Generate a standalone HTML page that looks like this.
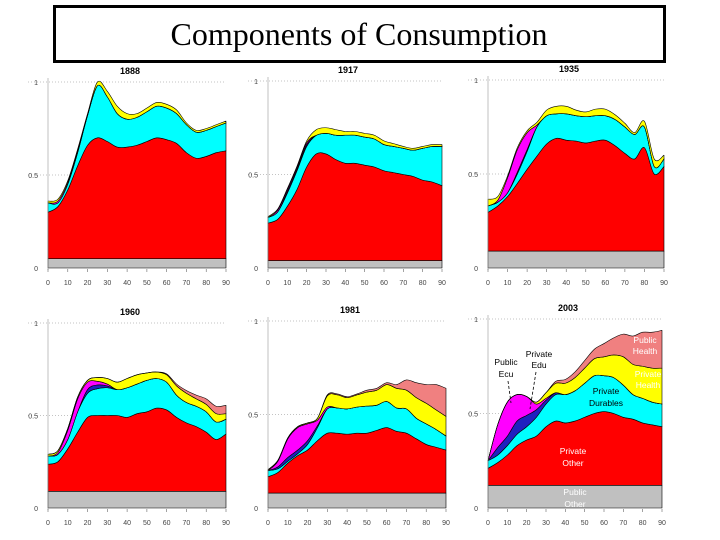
<!DOCTYPE html>
<html><head><meta charset="utf-8"><style>
html,body{margin:0;padding:0;background:#fff;width:720px;height:540px;overflow:hidden}
svg text{font-family:"Liberation Sans",sans-serif}
</style></head><body>
<svg id="chart" width="720" height="540" xmlns="http://www.w3.org/2000/svg">
<rect x="54.5" y="6.5" width="610" height="55" fill="#fff" stroke="#000" stroke-width="3"/>
<text x="359" y="45" text-anchor="middle" style="font-family:'Liberation Serif',serif;font-size:32px">Components of Consumption</text>
<g id="panels"></g>
</svg>
<script>
const ages=[0,5,10,15,20,25,30,35,40,45,50,55,60,65,70,75,80,85,90];
const layerNames=["public-other","private-other","private-durables","private-edu","public-edu","private-health","public-health"];
const layerColors=["#c0c0c0","#ff0000","#00ffff","#2020c0","#ff00ff","#ffff00","#f08080"];
const years=["1888","1917","1935","1960","1981","2003"];
const z=Array(19).fill(0);
// thickness per layer, per panel
const p1888=[
 Array(19).fill(0.05),
 [0.25,0.28,0.37,0.50,0.61,0.65,0.63,0.60,0.60,0.61,0.63,0.65,0.64,0.62,0.57,0.54,0.55,0.57,0.58],
 [0.05,0.02,0.03,0.07,0.16,0.28,0.24,0.18,0.15,0.15,0.16,0.17,0.17,0.16,0.15,0.14,0.14,0.14,0.15],
 z,
 [0,0.01,0.01,0.01,0,0,0,0,0,0,0,0,0,0,0,0,0,0,0],
 [0.01,0.01,0.01,0.01,0.01,0.02,0.03,0.04,0.03,0.02,0.02,0.02,0.02,0.02,0.01,0.01,0.01,0.01,0.01],
 z];
const p1917=[
 Array(19).fill(0.04),
 [0.20,0.22,0.29,0.38,0.50,0.57,0.57,0.54,0.52,0.52,0.51,0.50,0.48,0.47,0.46,0.45,0.43,0.42,0.40],
 [0.03,0.04,0.07,0.10,0.11,0.10,0.11,0.13,0.15,0.15,0.15,0.15,0.14,0.14,0.14,0.14,0.17,0.19,0.21],
 [0,0,0.01,0.01,0.01,0,0,0,0,0,0,0,0,0,0,0,0,0,0],
 [0,0.01,0.01,0.01,0.01,0,0,0,0,0,0,0,0,0,0,0,0,0,0],
 [0.005,0.005,0.005,0.005,0.01,0.03,0.03,0.03,0.02,0.02,0.02,0.02,0.02,0.015,0.01,0.01,0.01,0.01,0.01],
 z];
const p1935=[
 Array(19).fill(0.09),
 [0.206,0.24,0.29,0.36,0.435,0.505,0.57,0.60,0.59,0.585,0.575,0.585,0.59,0.56,0.52,0.49,0.55,0.41,0.45],
 [0.034,0.02,0.02,0.05,0.095,0.155,0.15,0.13,0.14,0.135,0.14,0.135,0.13,0.14,0.14,0.13,0.11,0.04,0.04],
 [0,0,0,0.01,0.01,0,0,0,0,0,0,0,0,0,0,0,0,0,0],
 [0,0.01,0.08,0.12,0.09,0.01,0,0,0,0,0,0,0,0,0,0,0,0,0],
 [0.036,0.02,0.01,0.01,0.01,0.015,0.03,0.04,0.04,0.03,0.025,0.035,0.035,0.025,0.02,0.01,0.03,0.04,0.02],
 z];
const p1960=[
 Array(19).fill(0.09),
 [0.146,0.16,0.23,0.32,0.40,0.41,0.41,0.41,0.40,0.42,0.43,0.45,0.44,0.40,0.37,0.35,0.32,0.28,0.31],
 [0.044,0.04,0.05,0.11,0.13,0.145,0.15,0.14,0.16,0.16,0.17,0.16,0.15,0.12,0.11,0.11,0.11,0.095,0.08],
 [0,0,0,0,0.02,0.02,0.01,0,0,0,0,0,0,0,0,0,0,0,0],
 [0,0.01,0.05,0.07,0.04,0.02,0.01,0,0,0,0,0,0,0,0,0,0,0,0],
 [0.01,0.01,0.01,0.01,0.01,0.02,0.03,0.04,0.05,0.05,0.04,0.035,0.04,0.05,0.05,0.04,0.04,0.045,0.03],
 [0,0,0,0,0,0,0,0,0,0,0,0,0.005,0.01,0.015,0.02,0.03,0.04,0.045]];
const p1981=[
 Array(19).fill(0.08),
 [0.087,0.11,0.16,0.20,0.23,0.28,0.32,0.32,0.315,0.32,0.32,0.335,0.35,0.33,0.32,0.29,0.26,0.245,0.23],
 [0.033,0.02,0.01,0.01,0.03,0.07,0.13,0.135,0.135,0.14,0.145,0.135,0.14,0.125,0.13,0.11,0.11,0.095,0.075],
 [0,0.01,0.02,0.02,0.02,0.01,0,0,0,0,0,0,0,0,0,0,0,0,0],
 [0,0.03,0.10,0.12,0.09,0.03,0.01,0,0,0,0,0,0,0,0,0,0,0,0],
 [0.005,0.005,0.005,0.005,0.005,0.01,0.06,0.07,0.06,0.065,0.075,0.08,0.09,0.105,0.10,0.11,0.11,0.105,0.105],
 [0,0,0,0,0,0,0.005,0.005,0.005,0.005,0.01,0.01,0.01,0.02,0.055,0.08,0.10,0.135,0.15]];
const p2003=[
 Array(19).fill(0.12),
 [0.09,0.12,0.16,0.21,0.24,0.26,0.31,0.34,0.33,0.34,0.36,0.38,0.39,0.38,0.36,0.35,0.33,0.32,0.31],
 [0.04,0.04,0.05,0.06,0.07,0.10,0.12,0.14,0.15,0.16,0.18,0.20,0.19,0.19,0.17,0.13,0.13,0.12,0.12],
 [0,0.04,0.05,0.07,0.06,0.04,0.02,0.01,0,0,0,0,0,0,0,0,0,0,0],
 [0,0.12,0.18,0.14,0.10,0.03,0.01,0,0,0,0,0,0,0,0,0,0,0,0],
 [0,0,0,0,0,0.01,0.03,0.05,0.06,0.07,0.08,0.09,0.10,0.12,0.15,0.16,0.17,0.18,0.19],
 [0,0,0,0,0,0,0,0.01,0.02,0.03,0.04,0.05,0.07,0.09,0.12,0.15,0.18,0.19,0.20]];
const panelData=[p1888,p1917,p1935,p1960,p1981,p2003];
const xTicks=[0,10,20,30,40,50,60,70,80,90];
const yTicks=[0,0.5,1];
const yTickLabels=["0","0.5","1"];

const NS="http://www.w3.org/2000/svg";
const root=document.getElementById('panels');
const geo=[[48,226,268,82],[268,442,268,81],[488,664,268,80],[48,226,508,323],[268,446,508,321],[488,662,508,319]];
function mk(t,a,p){const e=document.createElementNS(NS,t);for(const k in a)e.setAttribute(k,a[k]);(p||root).appendChild(e);return e;}
function smooth(pts,start){
  let d=start?('M'+pts[0][0]+','+pts[0][1]):('L'+pts[0][0]+','+pts[0][1]);
  for(let i=0;i<pts.length-1;i++){
    const p0=pts[Math.max(0,i-1)],p1=pts[i],p2=pts[i+1],p3=pts[Math.min(pts.length-1,i+2)];
    const c1=[p1[0]+(p2[0]-p0[0])/6,p1[1]+(p2[1]-p0[1])/6];
    const c2=[p2[0]-(p3[0]-p1[0])/6,p2[1]-(p3[1]-p1[1])/6];
    d+=' C'+c1[0].toFixed(2)+','+c1[1].toFixed(2)+' '+c2[0].toFixed(2)+','+c2[1].toFixed(2)+' '+p2[0].toFixed(2)+','+p2[1].toFixed(2);
  }
  return d;
}
panelData.forEach((data,pi)=>{
  const [x0,x1,y0,y1]=geo[pi];
  const sx=v=>x0+(v/90)*(x1-x0);
  const sy=v=>y0-(v)*(y0-y1);
  const g=mk('g',{});
  
  
  yTicks.forEach((t,i)=>{
    if(t>0){const l=mk('line',{x1:x0-20,x2:x1,y1:sy(t),y2:sy(t),stroke:'#888','stroke-width':0.6,'stroke-dasharray':'1,2'},g);
      }
    const tx=mk('text',{x:x0-10,y:sy(t)+3,'text-anchor':'end','font-size':7,fill:'#444'},g);
    tx.textContent=yTickLabels[i];
    
  });
  let base=Array(ages.length).fill(0);
  data.forEach((layer,li)=>{
    const top=base.map((b,i)=>b+layer[i]);
    if(layer.some(v=>v>0)){
      const tp=ages.map((a,i)=>[sx(a),sy(top[i])]);
      const bp=ages.map((a,i)=>[sx(a),sy(base[i])]).reverse();
      const d=smooth(tp,true)+' '+smooth(bp,false)+' Z';
      const p=mk('path',{d:d,fill:layerColors[li],stroke:'#000','stroke-width':0.6,'stroke-linejoin':'round'},g);
      
      
    }
    base=top;
  });
  const ax=mk('line',{x1:x0,x2:x0,y1:y1-4,y2:y0+2,stroke:'#999','stroke-width':0.6},g);
  
  xTicks.forEach(t=>{
    mk('line',{x1:sx(t),x2:sx(t),y1:y0+1,y2:y0+4,stroke:'#666','stroke-width':0.6},g);
    const tx=mk('text',{x:sx(t),y:y0+17,'text-anchor':'middle','font-size':7,fill:'#444'},g);
    tx.textContent=t;
    
  });
  const tt=mk('text',{x:(x0+x1)/2-7,y:y1-8,'text-anchor':'middle','font-size':9,'font-weight':'bold'},g);
  tt.textContent=years[pi];
  
});
// annotations on 2003 panel
const ann=[["Public",645,343,"#fff"],["Health",645,354,"#fff"],["Private",648,377,"#fff"],["Health",648,388,"#fff"],["Private",606,394,"#000"],["Durables",606,406,"#000"],["Private",573,454,"#fff"],["Other",573,466,"#fff"],["Public",575,495,"#fff"],["Other",575,507,"#fff"],["Public",506,365,"#000"],["Ecu",506,377,"#000"],["Private",539,357,"#000"],["Edu",539,368,"#000"]];
ann.forEach(a=>{
  const t=mk('text',{x:a[1],y:a[2],'text-anchor':'middle','font-size':8.5,fill:a[3]});
  t.textContent=a[0];
  
  
});
const l1=mk('line',{x1:508,y1:381,x2:511,y2:403,stroke:'#000','stroke-width':0.8,'stroke-dasharray':'3,2'});

const l2=mk('line',{x1:536,y1:372,x2:530,y2:409,stroke:'#000','stroke-width':0.8,'stroke-dasharray':'3,2'});

</script>
</body></html>
